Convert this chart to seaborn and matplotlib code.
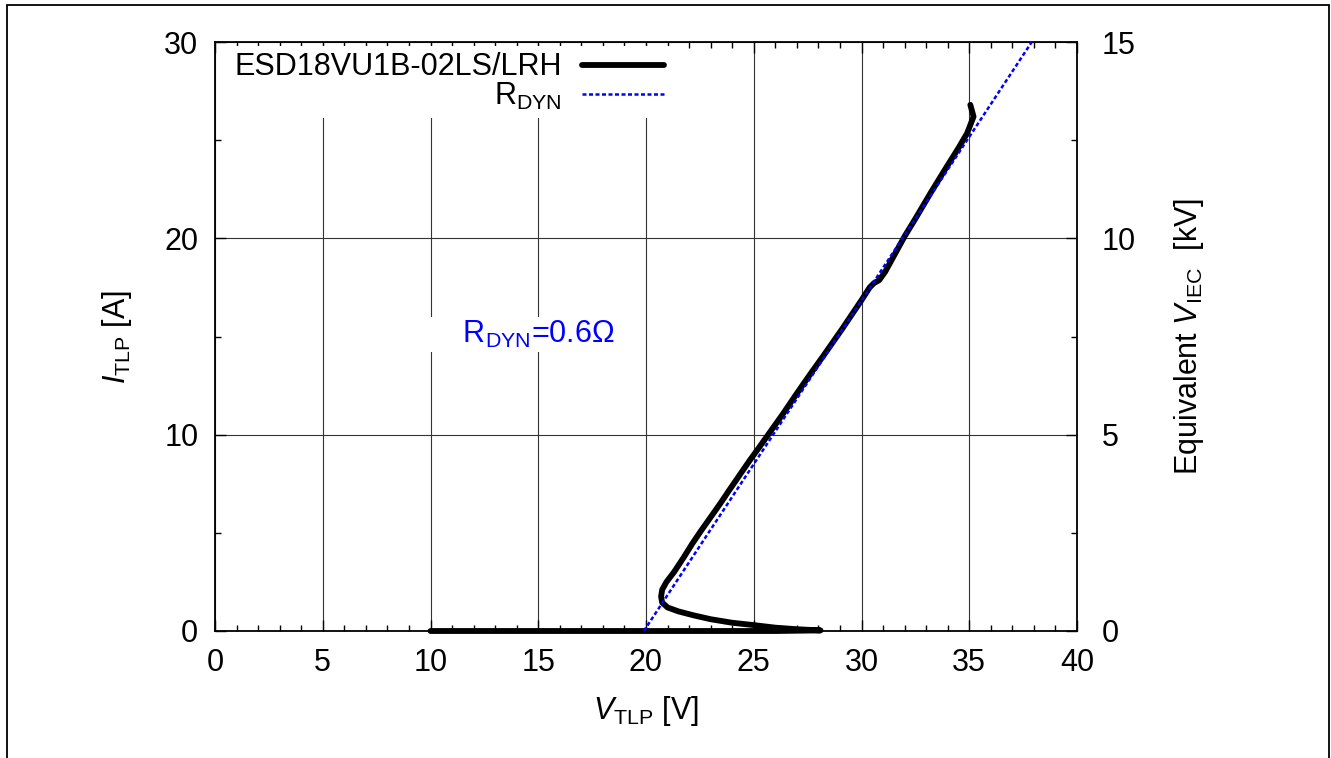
import matplotlib
matplotlib.use("Agg")
import matplotlib.pyplot as plt
import seaborn as sns
from matplotlib.patches import Rectangle
from matplotlib.ticker import MultipleLocator

# TLP characteristic, traced in drawing order: leakage -> snapback -> on-state
tlp_v = [10.0, 20.0, 26.0, 28.1, 27.0, 26.0, 25.0, 24.0, 23.0, 22.2, 21.5,
         21.0, 20.75, 20.7, 20.75, 20.95, 21.3, 21.75, 22.15, 22.55, 22.97,
         23.42, 23.88, 24.35, 24.82, 25.25, 25.67, 26.35, 27.0, 27.6, 28.22,
         29.08, 30.0, 30.38, 30.58, 30.82, 31.1, 31.5, 32.0, 32.5, 33.2,
         33.9, 34.5, 34.9, 35.2, 35.05]
tlp_i = [0.0, 0.0, 0.0, 0.03, 0.09, 0.17, 0.3, 0.42, 0.6, 0.8, 1.0,
         1.2, 1.45, 1.75, 2.1, 2.5, 3.0, 3.75, 4.45, 5.1, 5.75,
         6.45, 7.2, 7.95, 8.7, 9.35, 10.0, 11.05, 12.1, 13.05, 14.0,
         15.35, 16.85, 17.5, 17.72, 17.87, 18.3, 19.1, 20.1, 21.0, 22.3,
         23.55, 24.6, 25.35, 26.2, 26.8]

# dynamic resistance fit, 0.6 ohm
rdyn_v = [19.9, 37.9]
rdyn_i = [0.0, 30.0]

device_label = "ESD18VU1B-02LS/LRH"
rdyn_label = r"R$_{\mathrm{DYN}}$"
rdyn_note = r"    R$_{\mathrm{DYN}}$=0.6Ω"

x_ticks = [0, 5, 10, 15, 20, 25, 30, 35, 40]
y_ticks = [0, 10, 20, 30]
kv_ticks = [0, 5, 10, 15]

sns.set_theme(style="ticks")
plt.rcParams["font.family"] = ["Liberation Sans", "DejaVu Sans"]
plt.rcParams["mathtext.fontset"] = "custom"
plt.rcParams["mathtext.rm"] = "Liberation Sans"
plt.rcParams["mathtext.it"] = "Liberation Sans:italic"
plt.rcParams["mathtext.bf"] = "Liberation Sans:bold"
plt.rcParams["text.color"] = "black"
plt.rcParams["axes.labelcolor"] = "black"

FS = 22

fig = plt.figure(figsize=(13.31, 7.58), dpi=100)
ax = fig.add_axes([215 / 1331, 1 - 631 / 758, 862 / 1331, 589 / 758])

sns.lineplot(x=tlp_v, y=tlp_i, sort=False, estimator=None, ax=ax,
             color="black", lw=4.2, solid_capstyle="round",
             solid_joinstyle="round", label=device_label, clip_on=False,
             zorder=3)
sns.lineplot(x=rdyn_v, y=rdyn_i, sort=False, estimator=None, ax=ax,
             color="blue", lw=1.8, linestyle=(0, (1.6, 1.0)),
             label=rdyn_label, zorder=4)

ax.set_xlim(0, 40)
ax.set_ylim(0, 30)
ax.set_xticks(x_ticks)
ax.set_yticks(y_ticks)
ax.xaxis.set_minor_locator(MultipleLocator(1))
ax.yaxis.set_minor_locator(MultipleLocator(5))
ax.grid(True, which="major", color="#333333", lw=0.8, zorder=0)
ax.set_axisbelow(True)
for s in ax.spines.values():
    s.set_color("black")
    s.set_linewidth(1.3)
    s.set_visible(True)

ax.tick_params(which="both", direction="in", top=True, right=False,
               colors="black", labelsize=FS, width=1.0)
ax.tick_params(which="major", length=8, pad=12)
ax.tick_params(which="minor", length=4)
ax.set_xlabel(r"$\mathit{V}_{\mathrm{TLP}}$ [V]", fontsize=FS, labelpad=12)
ax.set_ylabel(r"$\mathit{I}_{\mathrm{TLP}}$ [A]", fontsize=FS, labelpad=22)

ax2 = ax.twinx()
ax2.set_ylim(0, 15)
ax2.set_yticks(kv_ticks)
ax2.yaxis.set_minor_locator(MultipleLocator(2.5))
ax2.tick_params(which="both", direction="in", right=True, colors="black",
                labelsize=FS, width=1.0)
ax2.tick_params(which="major", length=8, pad=18)
ax2.tick_params(which="minor", length=4)
ax2.set_ylabel(r"Equivalent $\mathit{V}_{\mathrm{IEC}}$  [kV]", fontsize=FS,
               labelpad=26)
for s in ax2.spines.values():
    s.set_visible(False)

ax.text(9.95, 15.1, rdyn_note, color="blue", fontsize=FS, ha="left",
        va="center", zorder=5,
        bbox=dict(facecolor="white", edgecolor="none", pad=1))

leg = ax.legend(loc="upper right", bbox_to_anchor=(0.528, 0.993),
                markerfirst=False, fontsize=FS, handlelength=2.7,
                handletextpad=0.65, labelspacing=-0.05, borderpad=0.2,
                borderaxespad=0.0, frameon=True, fancybox=False,
                framealpha=1.0, facecolor="white", edgecolor="none")
leg.set_zorder(10)

fig.add_artist(Rectangle((7 / 1331, -0.05), 1322 / 1331, 1.05 - 5 / 758,
                         transform=fig.transFigure, fill=False,
                         edgecolor="black", lw=1.3))

fig.savefig("out.png", dpi=100)
